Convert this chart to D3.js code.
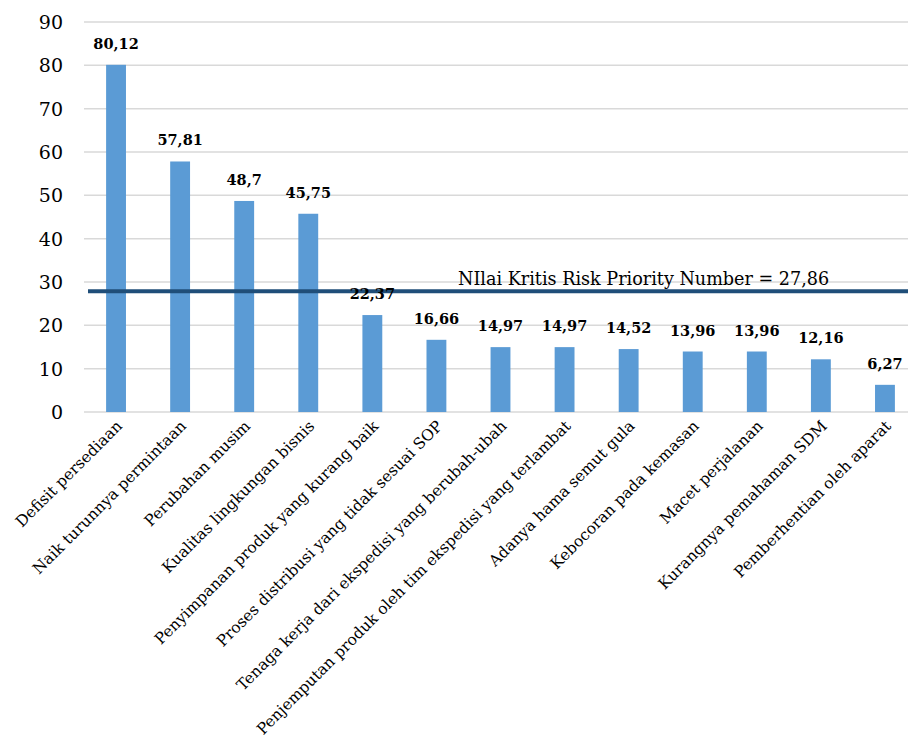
<!DOCTYPE html>
<html>
<head>
<meta charset="utf-8">
<script src="https://cdn.jsdelivr.net/npm/d3@7"></script>
<style>
  html, body { margin: 0; padding: 0; background: #fff; }
  svg { display: block; }
</style>
</head>
<body>
<svg id="chart" width="908" height="749"></svg>
<script>
// Risk factors, ordered by Risk Priority Number
const categories = [
  "Defisit persediaan",
  "Naik turunnya permintaan",
  "Perubahan musim",
  "Kualitas lingkungan bisnis",
  "Penyimpanan produk yang kurang baik",
  "Proses distribusi yang tidak sesuai SOP",
  "Tenaga kerja dari ekspedisi yang berubah-ubah",
  "Penjemputan produk oleh tim ekspedisi yang terlambat",
  "Adanya hama semut gula",
  "Kebocoran pada kemasan",
  "Macet perjalanan",
  "Kurangnya pemahaman SDM",
  "Pemberhentian oleh aparat"
];
const rpnValues = [80.12, 57.81, 48.7, 45.75, 22.37, 16.66, 14.97, 14.97, 14.52, 13.96, 13.96, 12.16, 6.27];
const yTicks = [0, 10, 20, 30, 40, 50, 60, 70, 80, 90];
const criticalValue = 27.86;
const criticalLabel = "NIlai Kritis Risk Priority Number = 27,86";

const fmt = v => String(v).replace(".", ",");

const svg = d3.select("#chart");
const serif = "'DejaVu Serif', serif";

const x = d3.scaleBand()
  .domain(categories)
  .range([84, 917])
  .paddingInner(0.69)
  .paddingOuter(0.345);

const y = d3.scaleLinear()
  .domain([0, 90])
  .range([412, 22]);

// gridlines
svg.append("g")
  .selectAll("line")
  .data(yTicks)
  .join("line")
  .attr("x1", 84).attr("x2", 908)
  .attr("y1", d => y(d)).attr("y2", d => y(d))
  .attr("stroke", "#d9d9d9")
  .attr("stroke-width", 1.5);

// y-axis labels
svg.append("g")
  .selectAll("text")
  .data(yTicks)
  .join("text")
  .attr("x", 63)
  .attr("y", d => y(d))
  .attr("dy", "0.36em")
  .attr("text-anchor", "end")
  .attr("font-family", serif)
  .attr("font-size", 19)
  .attr("fill", "#000")
  .text(d => d);

// bars
svg.append("g")
  .selectAll("rect")
  .data(rpnValues)
  .join("rect")
  .attr("x", (d, i) => x(categories[i]))
  .attr("width", x.bandwidth())
  .attr("y", d => y(d))
  .attr("height", d => y(0) - y(d))
  .attr("fill", "#5b9bd5");

// critical RPN threshold
svg.append("line")
  .attr("x1", 88).attr("x2", 908)
  .attr("y1", y(criticalValue)).attr("y2", y(criticalValue))
  .attr("stroke", "#1f4e79")
  .attr("stroke-width", 4);

svg.append("text")
  .attr("x", 458)
  .attr("y", y(criticalValue) - 6)
  .attr("font-family", serif)
  .attr("font-size", 17.6)
  .attr("fill", "#000")
  .text(criticalLabel);

// value labels
svg.append("g")
  .selectAll("text")
  .data(rpnValues)
  .join("text")
  .attr("x", (d, i) => x(categories[i]) + x.bandwidth() / 2)
  .attr("y", d => y(d) - 16)
  .attr("text-anchor", "middle")
  .attr("font-family", serif)
  .attr("font-size", 14.5)
  .attr("font-weight", "bold")
  .attr("fill", "#000")
  .text(d => fmt(d));

// rotated category labels
svg.append("g")
  .selectAll("text")
  .data(categories)
  .join("text")
  .attr("transform", d => `translate(${x(d) + x.bandwidth() / 2 + 7},${427}) rotate(-45)`)
  .attr("text-anchor", "end")
  .attr("font-family", serif)
  .attr("font-size", 15.5)
  .attr("fill", "#000")
  .text(d => d);
</script>
</body>
</html>
